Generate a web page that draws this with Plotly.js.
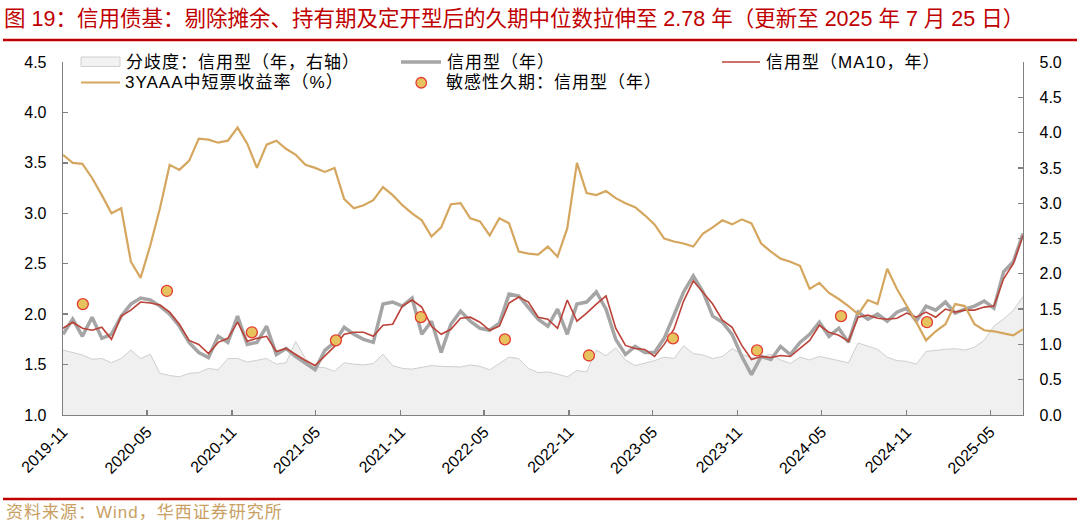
<!DOCTYPE html>
<html><head><meta charset="utf-8">
<script src="https://cdn.plot.ly/plotly-3.0.1.min.js"></script>
<style>html,body{margin:0;padding:0;background:#fff}#chart{width:1080px;height:523px}
.annotation-text{letter-spacing:1px}</style>
</head><body><div id="chart"></div>
<script>
// x grid: sample dates every 21 days starting 2019-11-01
const startDate = '2019-11-01';
const stepDays = 21;

// 3YAAA 中短票收益率 (%)
const yield3YAAA = [3.58,3.50,3.49,3.35,3.18,3.00,3.05,2.52,2.36,2.68,
 3.05,3.48,3.43,3.52,3.74,3.73,3.70,3.72,3.85,3.69,
 3.45,3.68,3.72,3.64,3.58,3.48,3.45,3.41,3.45,3.14,
 3.05,3.08,3.13,3.26,3.18,3.08,3.00,2.93,2.77,2.86,
 3.09,3.10,2.95,2.92,2.78,2.95,2.90,2.62,2.60,2.59,
 2.67,2.57,2.85,3.50,3.20,3.18,3.22,3.15,3.10,3.06,
 2.98,2.89,2.75,2.72,2.70,2.67,2.80,2.86,2.93,2.89,
 2.94,2.90,2.70,2.62,2.55,2.52,2.48,2.25,2.31,2.21,
 2.15,2.08,2.00,2.14,2.10,2.45,2.25,2.09,1.92,1.74,
 1.83,1.90,2.10,2.08,1.90,1.84,1.83,1.81,1.79,1.85];

// 信用型 (MA10, 年)
const creditMA10 = [1.86,1.92,1.86,1.84,1.87,1.75,1.98,2.04,2.12,2.11,
 2.09,2.02,1.90,1.74,1.70,1.61,1.72,1.76,1.92,1.73,
 1.76,1.78,1.63,1.66,1.60,1.54,1.49,1.59,1.68,1.80,
 1.82,1.82,1.78,1.89,1.90,2.08,2.14,2.07,1.88,1.80,
 1.85,1.96,1.97,1.92,1.84,1.88,2.11,2.17,2.12,1.97,
 1.95,1.86,2.14,1.93,2.01,2.10,2.18,1.86,1.69,1.66,
 1.65,1.58,1.70,1.85,2.13,2.33,2.22,2.10,1.94,1.87,
 1.69,1.55,1.58,1.57,1.59,1.58,1.66,1.74,1.89,1.82,
 1.79,1.73,1.97,1.99,1.96,1.95,1.96,2.01,1.97,2.02,
 1.97,2.05,2.02,2.04,2.04,2.07,2.08,2.35,2.50,2.78];

// 信用型 (年)
const creditDur = [1.80,1.95,1.78,1.97,1.76,1.80,1.98,2.10,2.16,2.14,
 2.08,2.00,1.88,1.72,1.62,1.57,1.78,1.72,1.98,1.70,
 1.72,1.88,1.60,1.66,1.58,1.52,1.45,1.64,1.72,1.87,
 1.80,1.75,1.72,2.10,2.12,2.08,2.16,1.80,1.93,1.62,
 1.90,2.03,1.93,1.86,1.84,1.91,2.20,2.18,2.06,1.95,
 1.88,2.05,1.80,2.10,2.12,2.22,2.05,1.75,1.60,1.68,
 1.62,1.62,1.76,2.00,2.22,2.38,2.22,1.98,1.92,1.80,
 1.58,1.40,1.58,1.55,1.68,1.60,1.72,1.80,1.92,1.78,
 1.86,1.72,2.02,1.95,2.00,1.93,2.02,2.06,1.93,2.08,
 2.04,2.12,2.01,2.05,2.08,2.13,2.06,2.42,2.52,2.80];

// 分歧度: 信用型 (年, 右轴)
const dispersion = [0.92,0.88,0.85,0.79,0.80,0.74,0.80,0.92,0.80,0.86,
 0.59,0.56,0.54,0.59,0.60,0.66,0.64,0.80,0.80,0.75,
 0.77,0.80,0.72,0.74,1.04,0.80,0.68,0.67,0.62,0.74,
 0.72,0.71,0.73,0.86,0.70,0.66,0.65,0.68,0.70,0.69,
 0.68,0.68,0.71,0.69,0.64,0.73,0.82,0.80,0.66,0.60,
 0.61,0.58,0.54,0.63,0.61,0.92,0.84,0.95,0.78,0.70,
 0.73,0.77,0.82,0.80,0.98,0.87,0.85,0.80,0.83,0.94,
 0.86,0.81,0.82,0.86,0.78,0.73,0.82,0.78,0.83,0.80,
 0.76,0.74,1.02,0.98,0.93,0.82,0.77,0.76,0.72,0.90,
 0.92,0.93,0.94,0.92,0.96,1.06,1.26,1.36,1.48,1.68];

// 敏感性久期: 信用型 (年)
const sensDates = ['2019-12-14','2020-06-13','2020-12-14','2021-06-14','2021-12-15','2022-06-15','2022-12-14','2023-06-14','2023-12-13','2024-06-12','2024-12-15'];
const sensVals = [2.10,2.23,1.82,1.74,1.97,1.75,1.59,1.76,1.64,1.98,1.92];

const tickLabels = ['2019-11','2020-05','2020-11','2021-05','2021-11','2022-05','2022-11','2023-05','2023-11','2024-05','2024-11','2025-05'];

const legendNames = ['分歧度：信用型（年，右轴）','信用型（年）','信用型（MA10，年）','3YAAA中短票收益率（%）','敏感性久期：信用型（年）'];
const titleText = '图 19：信用债基：剔除摊余、持有期及定开型后的久期中位数拉伸至 2.78 年（更新至 2025 年 7 月 25 日）';
const sourceText = '资料来源：Wind，华西证券研究所';

// ---- build ----
const t0 = new Date(startDate + 'T00:00:00Z').getTime();
const dates = yield3YAAA.map((_, i) => new Date(t0 + i * stepDays * 86400000).toISOString().slice(0, 10));

const C = {gold:'#D5A65E', gray:'#A5A5A5', red:'#BB4238', dispLine:'#CFCFCF', dispFill:'#F0F0F0', dotFill:'#E6C35E', dotLine:'#E23B30', axis:'#808080', title:'#C00000', source:'#C9A063'};
const FONT = '"Liberation Sans", Arial, "Noto Sans CJK SC", sans-serif';

// primary y (drawn underneath) = right axis for the dispersion area; y2 overlays it for the lines
const traces = [
  {x: dates, y: dispersion, yaxis:'y', type:'scatter', mode:'lines', fill:'tozeroy', fillcolor:C.dispFill, line:{color:C.dispLine, width:1}, name:legendNames[0], showlegend:false},
  {x: dates, y: creditDur, yaxis:'y2', type:'scatter', mode:'lines', line:{color:C.gray, width:3.5}, name:legendNames[1], showlegend:false},
  {x: dates, y: creditMA10, yaxis:'y2', type:'scatter', mode:'lines', line:{color:C.red, width:1.6}, name:legendNames[2], showlegend:false},
  {x: dates, y: yield3YAAA, yaxis:'y2', type:'scatter', mode:'lines', line:{color:C.gold, width:2.2}, name:legendNames[3], showlegend:false},
  {x: sensDates, y: sensVals, yaxis:'y2', type:'scatter', mode:'markers', marker:{size:11, color:C.dotFill, line:{color:C.dotLine, width:1.3}}, name:legendNames[4], showlegend:false}
];

// pixel -> paper helpers (plot area: x 63..1023, y 62..415)
const L = 63, R = 1023, T = 62, B = 415;
const px = x => (x - L) / (R - L);
const py = y => (B - y) / (B - T);

const shapes = [
  {type:'line', xref:'paper', yref:'paper', x0:px(3), x1:px(1077), y0:py(40), y1:py(40), line:{color:C.title, width:2.5}},
  {type:'line', xref:'paper', yref:'paper', x0:px(3), x1:px(1077), y0:py(499), y1:py(499), line:{color:C.title, width:2.5}},
  // legend symbols
  {type:'rect', xref:'paper', yref:'paper', x0:px(81), x1:px(120), y0:py(66.5), y1:py(57), fillcolor:'#F2F2F2', line:{color:'#D0D0D0', width:1}},
  {type:'line', xref:'paper', yref:'paper', x0:px(401), x1:px(441), y0:py(62), y1:py(62), line:{color:C.gray, width:3.5}},
  {type:'line', xref:'paper', yref:'paper', x0:px(722), x1:px(760), y0:py(62), y1:py(62), line:{color:C.red, width:1.6}},
  {type:'line', xref:'paper', yref:'paper', x0:px(81), x1:px(120), y0:py(82.5), y1:py(82.5), line:{color:C.gold, width:2.2}},
  {type:'circle', xref:'paper', yref:'paper', x0:px(416), x1:px(426.5), y0:py(77.5), y1:py(88), fillcolor:C.dotFill, line:{color:C.dotLine, width:1.3}}
];

const legFont = {family: FONT, size: 17, color:'#000'};
const ann = (text, x, y) => ({text, xref:'paper', yref:'paper', x:px(x), y:py(y), xanchor:'left', yanchor:'middle', showarrow:false, font:legFont});
const annotations = [
  ann(legendNames[0], 124, 62),
  ann(legendNames[1], 445, 62),
  ann(legendNames[2], 764, 62),
  ann(legendNames[3], 123, 82.5),
  ann(legendNames[4], 444, 82.5),
  {text: sourceText, xref:'paper', yref:'paper', x:px(4), y:py(512), xanchor:'left', yanchor:'middle', showarrow:false, font:{family:FONT, size:17, color:C.source}}
];

const axisCommon = {showgrid:false, zeroline:false, showline:true, linecolor:C.axis, linewidth:1.3, ticks:'inside', ticklen:5, tickcolor:C.axis, tickwidth:1.3};

const layout = {
  width:1080, height:523,
  margin:{l:L, r:1080-R, t:T, b:523-B, pad:0},
  paper_bgcolor:'#fff', plot_bgcolor:'#fff',
  font:{family:FONT, color:'#000'},
  showlegend:false,
  title:{text:titleText, xref:'container', yref:'container', x:4/1080, xanchor:'left', y:1-18/523, yanchor:'middle', font:{family:FONT, size:21.5, color:C.title}},
  xaxis: Object.assign({}, axisCommon, {type:'date', range:[startDate, dates[dates.length-1]], tickmode:'array', tickvals:tickLabels.map(t => t + '-01'), ticktext:tickLabels, tickangle:-45, tickfont:{family:FONT, size:16, color:'#000'}}),
  yaxis: Object.assign({}, axisCommon, {side:'right', range:[0,5], tick0:0, dtick:0.5, tickformat:'.1f', tickfont:{family:FONT, size:16, color:'#000'}, ticklabelstandoff:12}),
  yaxis2: Object.assign({}, axisCommon, {overlaying:'y', side:'left', range:[1,4.5], tick0:1, dtick:0.5, tickformat:'.1f', tickfont:{family:FONT, size:16, color:'#000'}, ticklabelstandoff:12}),
  shapes, annotations
};

Plotly.newPlot('chart', traces, layout, {staticPlot:true, displayModeBar:false});
</script>
</body></html>
